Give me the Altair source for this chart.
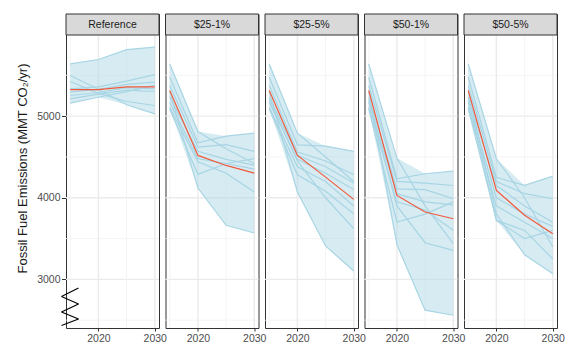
import altair as alt
import pandas as pd

years = [2015, 2020, 2025, 2030]
scenarios = ["Reference", "$25-1%", "$25-5%", "$50-1%", "$50-5%"]

ref_lines = [
    [5640, 5694, 5816, 5845],
    [5498, 5330, 5140, 5028],
    [5425, 5280, 5180, 5131],
    [5334, 5360, 5430, 5510],
    [5294, 5330, 5390, 5416],
    [5253, 5290, 5350, 5334],
    [5212, 5270, 5320, 5302],
    [5159, 5232, 5300, 5380],
]
p25_1_lines = [
    [5640, 4812, 4600, 4420],
    [5477, 4673, 4755, 4792],
    [5376, 4620, 4650, 4568],
    [5233, 4570, 4470, 4400],
    [5171, 4480, 4420, 4350],
    [5110, 4440, 4300, 4070],
    [5090, 4286, 4420, 4480],
    [5300, 4119, 3662, 3568],
]
p25_5_lines = [
    [5640, 4792, 4500, 4200],
    [5477, 4649, 4633, 4568],
    [5376, 4560, 4450, 4282],
    [5233, 4520, 4380, 4180],
    [5171, 4470, 4300, 4100],
    [5110, 4380, 4200, 3900],
    [5090, 4282, 4080, 3804],
    [5300, 4070, 3409, 3103],
    [5200, 4450, 4000, 3621],
]
p50_1_lines = [
    [5640, 4486, 3900, 3437],
    [5477, 4233, 4294, 4327],
    [5376, 4200, 4180, 4150],
    [5233, 4110, 4100, 3990],
    [5171, 4050, 3950, 3914],
    [5110, 3950, 3850, 3601],
    [5090, 3703, 3800, 3950],
    [5300, 3425, 2622, 2560],
    [5200, 3900, 3449, 3356],
]
p50_5_lines = [
    [5640, 4478, 4000, 3400],
    [5477, 4250, 4151, 4265],
    [5376, 4200, 4050, 3988],
    [5233, 4150, 3900, 3700],
    [5171, 4000, 3800, 3650],
    [5110, 3900, 3700, 3500],
    [5090, 3723, 3600, 3250],
    [5300, 3800, 3302, 3070],
    [5200, 3723, 3500, 3600],
]

ref_mean = [5326, 5326, 5359, 5359]
p25_1_mean = [5315, 4519, 4396, 4302]
p25_5_mean = [5315, 4519, 4253, 3980]
p50_1_mean = [5315, 4029, 3825, 3743]
p50_5_mean = [5315, 4090, 3785, 3560]

grid_major_y = [3000, 4000, 5000]
grid_minor_y = [2500, 3500, 4500, 5500]
grid_major_x = [2020, 2030]
grid_minor_x = [2015, 2025]

all_lines = [ref_lines, p25_1_lines, p25_5_lines, p50_1_lines, p50_5_lines]
all_means = [ref_mean, p25_1_mean, p25_5_mean, p50_1_mean, p50_5_mean]

rows = []
for scen, lines in zip(scenarios, all_lines):
    for m, vals in enumerate(lines):
        for yr, v in zip(years, vals):
            rows.append({"scenario": scen, "model": f"M{m+1}", "year": yr, "value": v})
lines_df = pd.DataFrame(rows)

mrows = []
for scen, vals in zip(scenarios, all_means):
    for yr, v in zip(years, vals):
        mrows.append({"scenario": scen, "year": yr, "value": v})
mean_df = pd.DataFrame(mrows)

W = 93
H = 314
STRIP = 21
FONT = "Liberation Sans"

xs = alt.Scale(domain=[2014.25, 2030.75], nice=False, zero=False)
ys = alt.Scale(domain=[2404, 6252], nice=False, zero=False)

x_axis = alt.Axis(values=grid_major_x, format="d", title=None, grid=False,
                  labelFlush=False, labelOverlap=False, labelBound=False,
                  tickSize=3, tickColor="#333333", domain=False,
                  labelColor="#4D4D4D", labelFontSize=10.5, labelFont=FONT, labelPadding=2)


def y_enc(field, first):
    if first:
        ax = alt.Axis(values=grid_major_y, format="d", title="Fossil Fuel Emissions (MMT CO₂/yr)",
                      grid=False, tickSize=4.5, tickColor="#333333", domain=False,
                      labelColor="#4D4D4D", labelFontSize=10.5, labelFont=FONT, labelPadding=1.5,
                      titleFont=FONT, titleFontSize=13, titleFontWeight="normal",
                      titleColor="#1A1A1A", titlePadding=7, titleY=154)
        return alt.Y(field, scale=ys, axis=ax)
    return alt.Y(field, scale=ys, axis=None)


def panel(i, name):
    first = i == 0
    gminy = alt.Chart(pd.DataFrame({"g": grid_minor_y})).mark_rule(color="#F2F2F2", strokeWidth=0.8).encode(
        y=y_enc("g:Q", first))
    gmajy = alt.Chart(pd.DataFrame({"g": grid_major_y})).mark_rule(color="#EBEBEB", strokeWidth=1.4).encode(
        y=y_enc("g:Q", first))
    gminx = alt.Chart(pd.DataFrame({"g": grid_minor_x})).mark_rule(color="#F2F2F2", strokeWidth=0.8).encode(
        x=alt.X("g:Q", scale=xs, axis=x_axis))
    gmajx = alt.Chart(pd.DataFrame({"g": grid_major_x})).mark_rule(color="#EBEBEB", strokeWidth=1.4).encode(
        x=alt.X("g:Q", scale=xs, axis=x_axis))

    base = alt.Chart(lines_df).transform_filter(alt.datum.scenario == name)
    ribbon = base.transform_aggregate(
        lo="min(value)", hi="max(value)", groupby=["year"]
    ).mark_area(color="#ADD8E6", opacity=0.5).encode(
        x=alt.X("year:Q", scale=xs, axis=x_axis),
        y=y_enc("lo:Q", first),
        y2="hi:Q",
    )
    lines = base.mark_line(color="#A8D5E4", strokeWidth=1.2).encode(
        x=alt.X("year:Q", scale=xs, axis=x_axis),
        y=y_enc("value:Q", first),
        detail="model:N",
    )
    mean = alt.Chart(mean_df).transform_filter(alt.datum.scenario == name).mark_line(
        color="#F05A3C", strokeWidth=1.2
    ).encode(
        x=alt.X("year:Q", scale=xs, axis=x_axis),
        y=y_enc("value:Q", first),
    )
    strip_df = pd.DataFrame({"s": [name]})
    strip = alt.Chart(strip_df).mark_rect(fill="#D9D9D9", stroke="#333333", strokeWidth=1).encode(
        x=alt.value(0), x2=alt.value(W), y=alt.value(0), y2=alt.value(STRIP))
    strip_txt = alt.Chart(strip_df).mark_text(fontSize=10.5, font=FONT, color="#1A1A1A").encode(
        x=alt.value(W / 2), y=alt.value(STRIP / 2 + 0.5), text="s:N")

    layers = [gminy, gmajy, gminx, gmajx, ribbon, lines, mean, strip, strip_txt]

    if first:
        zz_x = [12.5, -4.5]
        zz_y = [274, 282.5, 290, 298, 305, 311.5]
        one = pd.DataFrame({"k": [0]})
        for j in range(len(zz_y) - 1):
            xa = zz_x[j % 2]
            xb = zz_x[(j + 1) % 2]
            seg = alt.Chart(one).mark_rule(color="black", strokeWidth=1.1).encode(
                x=alt.value(xa), x2=alt.value(xb), y=alt.value(zz_y[j]), y2=alt.value(zz_y[j + 1]))
            layers.append(seg)

    return alt.layer(*layers).properties(width=W, height=H)


panels = [panel(i, s) for i, s in enumerate(scenarios)]

chart = alt.hconcat(*panels, spacing=6.5, bounds="flush").properties(
    padding={"left": 16, "top": 12, "right": 0, "bottom": 0},
    background="white",
).configure_view(stroke="#333333", strokeWidth=1)

chart.save("out.html", embed_options={"renderer": "svg", "actions": False})
